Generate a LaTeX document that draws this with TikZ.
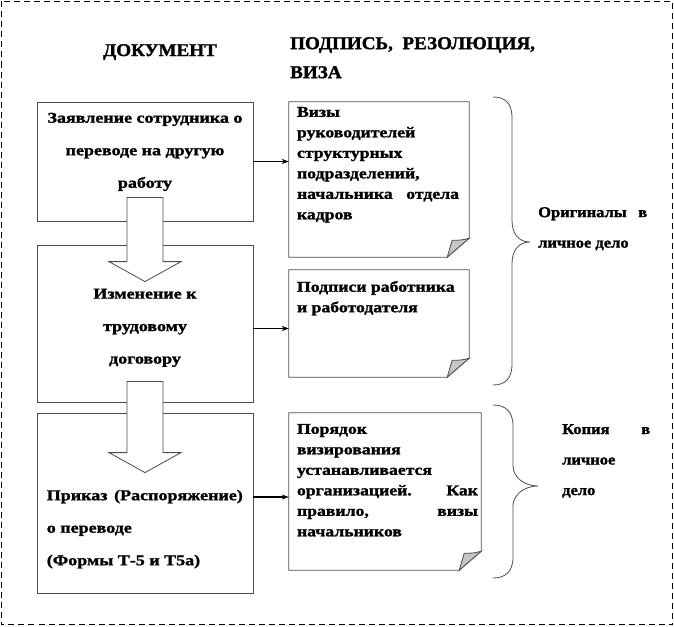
\documentclass[tikz,border=0pt]{standalone}
\usepackage{fontspec}
\setmainfont{Liberation Serif}
\newfontfamily\boxfont{Liberation Serif}[FakeStretch=1.2, BoldFeatures={FakeBold=1.5}]
\newfontfamily\notefont{Liberation Serif}[FakeStretch=1.18, BoldFeatures={FakeBold=1.5}]
\newfontfamily\sidefont{Liberation Serif}[FakeStretch=1.1, BoldFeatures={FakeBold=1.5}]
\newfontfamily\headfont{Liberation Serif}[FakeStretch=1.06, BoldFeatures={FakeBold=1.5}]
\usetikzlibrary{arrows.meta}

\begin{document}
\begin{tikzpicture}[x=1pt, y=-1pt]

  \tikzstyle{docbox} = [rectangle, draw=black!70, line width=0.8pt, minimum width=216pt, inner sep=0pt];
  \tikzstyle{notebox} = [rectangle, inner sep=0pt];
  \tikzstyle{boxtext} = [anchor=north, align=center, inner sep=0pt, font={\boxfont\bfseries\fontsize{15}{32.5}\selectfont}];
  \tikzstyle{notetext} = [anchor=north west, align=left, inner sep=0pt, font={\notefont\bfseries\fontsize{15}{20.5}\selectfont}];
  \tikzstyle{headtext} = [inner sep=0pt, font={\headfont\bfseries\fontsize{18}{29}\selectfont}];
  \tikzstyle{sidetext} = [anchor=north west, align=left, inner sep=0pt, font={\sidefont\bfseries\fontsize{15}{30.5}\selectfont}];
  \tikzstyle{blockarr} = [draw=black!70, fill=white, line width=0.8pt];
  \tikzstyle{link} = [-{Stealth[length=7pt, width=5pt]}, line width=1.3pt];
  \tikzstyle{brace} = [draw=black!70, line width=0.8pt];

  \useasboundingbox (0,0) rectangle (674,626);
  \draw[dash pattern=on 6pt off 4pt, line width=0.6pt] (1.5,1.5) rectangle (672.5,624.5);

  % headers
  \node[headtext] (doc) at (160,52) {ДОКУМЕНТ};
  \node[headtext, anchor=north west, align=left] (podp) at (290,37) {ПОДПИСЬ,\ \ РЕЗОЛЮЦИЯ,\\ВИЗА};

  % documents
  \node[docbox, minimum height=119pt] (zayav) at (145,161.5) {};
  \node[docbox, minimum height=157pt] (izmen) at (145,323.5) {};
  \node[docbox, minimum height=180pt] (prikaz) at (145,503) {};

  % block arrows between documents
  \foreach \src/\dst/\up/\down in {zayav/izmen/24/37, izmen/prikaz/21/60} {
    \coordinate (s) at ([yshift=\up]\src.south);
    \coordinate (t) at ([yshift=-\down]\dst.north);
    \draw[blockarr] ([xshift=-18pt]s) -- ([xshift=18pt]s) -- ([xshift=18pt, yshift=20pt]t)
      -- ([xshift=36pt, yshift=20pt]t) -- (t) -- ([xshift=-36pt, yshift=20pt]t)
      -- ([xshift=-18pt, yshift=20pt]t) -- cycle;
  }

  \node[boxtext] at ([yshift=-11pt]zayav.north) {Заявление сотрудника о\\переводе на другую\\работу};
  \node[boxtext] at ([yshift=-44pt]izmen.north) {Изменение к\\трудовому\\договору};
  \node[boxtext, align=left, anchor=north west] at ([xshift=10pt, yshift=-77pt]prikaz.north west)
    {\hbox to 196pt{Приказ\hfill(Распоряжение)}\\о переводе\\(Формы Т-5 и Т5а)};

  % signatures
  \node[notebox, minimum width=180pt, minimum height=155pt] (vizy) at (379,179.5) {};
  \node[notebox, minimum width=180pt, minimum height=107pt] (podpisi) at (379,323.5) {};
  \node[notebox, minimum width=192pt, minimum height=157pt] (poryadok) at (385,491.5) {};

  \foreach \n in {vizy, podpisi, poryadok} {
    \draw[draw=black!70, line width=0.8pt] (\n.north west) -- (\n.north east) -- ([yshift=19pt]\n.south east)
      -- ([xshift=-22pt]\n.south east) -- (\n.south west) -- cycle;
    \draw[draw=black!70, fill=gray!45, line width=0.8pt] ([xshift=-22pt]\n.south east)
      -- ([xshift=-17pt, yshift=17pt]\n.south east) .. controls ([xshift=-8pt, yshift=17pt]\n.south east)
      .. ([yshift=19pt]\n.south east) -- cycle;
  }

  \node[notetext] at ([xshift=8pt, yshift=-5pt]vizy.north west)
    {Визы\\руководителей\\структурных\\подразделений,\\\hbox to 162pt{начальника\hfill отдела}\\кадров};
  \node[notetext] at ([xshift=8pt, yshift=-11pt]podpisi.north west)
    {Подписи работника\\и работодателя};
  \node[notetext] at ([xshift=8pt, yshift=-11pt]poryadok.north west)
    {Порядок\\визирования\\устанавливается\\\hbox to 181pt{организацией.\hfill Как}\\\hbox to 181pt{правило,\hfill визы}\\начальников};

  % connectors
  \coordinate (l2) at ([yshift=-5pt]izmen.east);
  \coordinate (l3) at ([yshift=6pt]prikaz.east);
  \draw[link] (zayav.east) -- (vizy.west |- zayav.east);
  \draw[link] (l2) -- (podpisi.west |- l2);
  \draw[link] (l3) -- (poryadok.west |- l3);

  % braces
  \coordinate (b1top) at (493,97);
  \coordinate (b1bot) at (493,385);
  \draw[brace] (b1top) .. controls (505,97) and (512,103) .. (512,118) -- (512,220)
    .. controls (512,233) and (518,242) .. (530,242) .. controls (518,242) and (512,251) .. (512,264)
    -- (512,364) .. controls (512,379) and (505,385) .. (b1bot);
  \coordinate (b2top) at (493,405);
  \coordinate (b2bot) at (493,578);
  \draw[brace] (b2top) .. controls (505,405) and (513,411) .. (513,426) -- (513,466)
    .. controls (513,477) and (524,486) .. (538,486) .. controls (524,486) and (513,495) .. (513,506)
    -- (513,557) .. controls (513,572) and (505,578) .. (b2bot);

  \node[sidetext] (orig) at (538,207) {\hbox to 109pt{Оригиналы\hfill в}\\личное дело};
  \node[sidetext] (kopiya) at (562,424) {\hbox to 88pt{Копия\hfill в}\\личное\\дело};

\end{tikzpicture}
\end{document}
